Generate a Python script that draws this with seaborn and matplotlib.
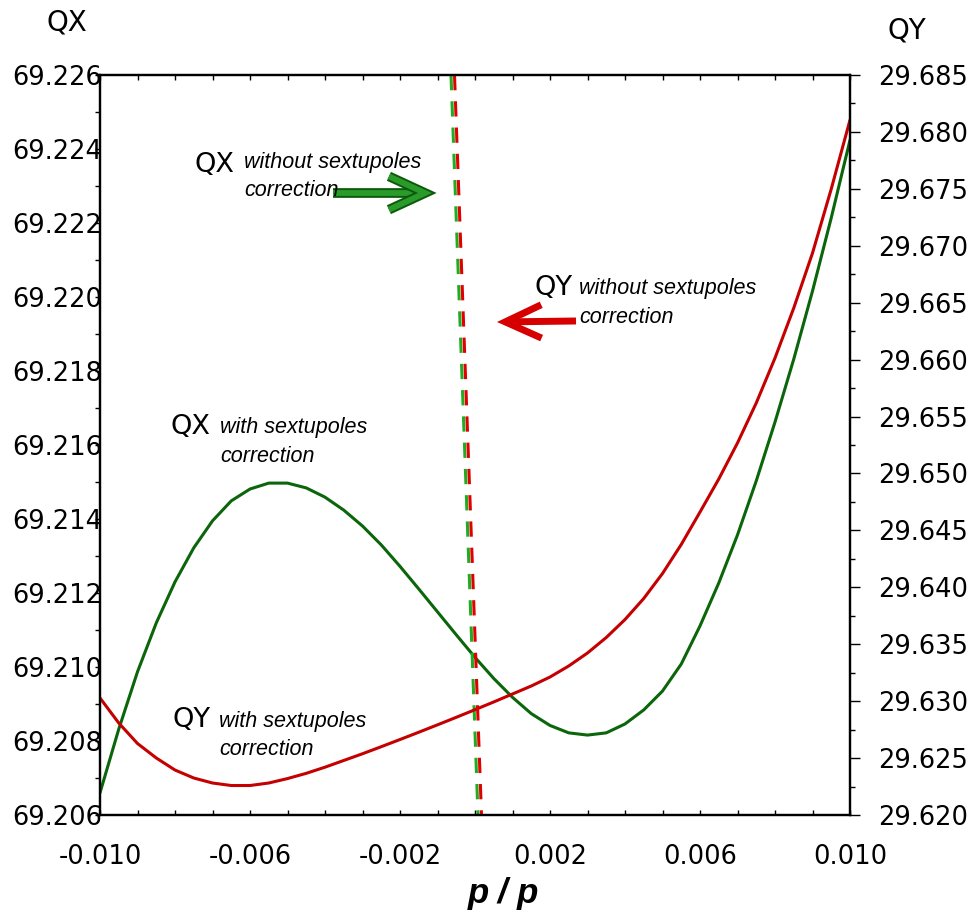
import matplotlib
matplotlib.use("Agg")
import matplotlib.pyplot as plt
import matplotlib.patheffects as pe
from matplotlib.patches import FancyArrowPatch
from matplotlib.ticker import FixedLocator, MultipleLocator
import seaborn as sns

# momentum deviation dp/p
dp = [-0.0100, -0.0095, -0.0090, -0.0085, -0.0080, -0.0075, -0.0070, -0.0065,
      -0.0060, -0.0055, -0.0050, -0.0045, -0.0040, -0.0035, -0.0030, -0.0025,
      -0.0020, -0.0015, -0.0010, -0.0005, 0.0000, 0.0005, 0.0010, 0.0015,
      0.0020, 0.0025, 0.0030, 0.0035, 0.0040, 0.0045, 0.0050, 0.0055,
      0.0060, 0.0065, 0.0070, 0.0075, 0.0080, 0.0085, 0.0090, 0.0095, 0.0100]

# horizontal tune with sextupole correction
qx_with = [69.20660, 69.20832, 69.20987, 69.21119, 69.21230, 69.21322, 69.21395,
           69.21449, 69.21481, 69.21497, 69.21497, 69.21484, 69.21459, 69.21424,
           69.21381, 69.21330, 69.21272, 69.21211, 69.21149, 69.21087, 69.21026,
           69.20969, 69.20918, 69.20874, 69.20842, 69.20822, 69.20816, 69.20822,
           69.20846, 69.20884, 69.20935, 69.21008, 69.21111, 69.21227, 69.21357,
           69.21503, 69.21662, 69.21832, 69.22016, 69.22214, 69.22424]

# vertical tune with sextupole correction
qy_with = [29.63028, 29.62808, 29.62628, 29.62501, 29.62395, 29.62325, 29.62281,
           29.62259, 29.62259, 29.62281, 29.62320, 29.62366, 29.62420, 29.62479,
           29.62538, 29.62600, 29.62663, 29.62727, 29.62792, 29.62858, 29.62925,
           29.62993, 29.63063, 29.63133, 29.63212, 29.63309, 29.63423, 29.63559,
           29.63717, 29.63902, 29.64121, 29.64376, 29.64661, 29.64951, 29.65268,
           29.65619, 29.66014, 29.66453, 29.66936, 29.67499, 29.68105]

# tunes without sextupole correction (steep, nearly vertical lines)
dp_qx_without = [-0.00064, 0.00008]
qx_without = [69.226, 69.206]
dp_qy_without = [-0.000547, 0.000173]
qy_without = [29.685, 29.620]

x_ticks = [-0.010, -0.006, -0.002, 0.002, 0.006, 0.010]
x_ticklabels = ["-0.010", "-0.006", "-0.002", "0.002", "0.006", "0.010"]
qx_ticks = [69.206, 69.208, 69.210, 69.212, 69.214, 69.216, 69.218, 69.220,
            69.222, 69.224, 69.226]
qx_ticklabels = ["69.206", "69.208", "69.210", "69.212", "69.214", "69.216",
                 "69.218", "69.220", "69.222", "69.224", "69.226"]
qy_ticks = [29.620, 29.625, 29.630, 29.635, 29.640, 29.645, 29.650, 29.655,
            29.660, 29.665, 29.670, 29.675, 29.680, 29.685]
qy_ticklabels = ["29.620", "29.625", "29.630", "29.635", "29.640", "29.645",
                 "29.650", "29.655", "29.660", "29.665", "29.670", "29.675",
                 "29.680", "29.685"]

GREEN = "#0b650b"
RED = "#c40000"
GREEN_DASH = "#22aa22"
RED_DASH = "#e00000"

sns.set_style("white")
plt.rcParams["font.family"] = ["DejaVu Sans"]
plt.rcParams["axes.unicode_minus"] = False
plt.rcParams["text.color"] = "black"
plt.rcParams["xtick.color"] = "black"
plt.rcParams["ytick.color"] = "black"
plt.rcParams["xtick.labelcolor"] = "black"
plt.rcParams["ytick.labelcolor"] = "black"

W, H = 976, 922
fig = plt.figure(figsize=(W / 100, H / 100), dpi=100)


def fx(px):
    return px / W


def fy(py):
    return 1 - py / H


ax = fig.add_axes([fx(100), fy(815), 750 / W, 740 / H])
ax2 = ax.twinx()

sns.lineplot(x=dp, y=qx_with, ax=ax, color=GREEN, linewidth=2.2,
             sort=False, estimator=None)
sns.lineplot(x=dp_qx_without, y=qx_without, ax=ax, color=GREEN_DASH,
             linewidth=2.2, sort=False, estimator=None,
             linestyle=(0, (5, 3.6)))
sns.lineplot(x=dp, y=qy_with, ax=ax2, color=RED, linewidth=2.2,
             sort=False, estimator=None)
sns.lineplot(x=dp_qy_without, y=qy_without, ax=ax2, color=RED_DASH,
             linewidth=2.2, sort=False, estimator=None,
             linestyle=(0, (5, 3.6)))

ax.set_xlim(-0.010, 0.010)
ax.set_ylim(69.206, 69.226)
ax2.set_ylim(29.620, 29.685)

tick_font = 18.5
ax.xaxis.set_major_locator(FixedLocator(x_ticks))
ax.set_xticklabels(x_ticklabels, fontsize=tick_font, color="black")
ax.xaxis.set_minor_locator(MultipleLocator(0.001))
ax.yaxis.set_major_locator(FixedLocator(qx_ticks))
ax.set_yticklabels(qx_ticklabels, fontsize=tick_font, color="black")
ax.yaxis.set_minor_locator(MultipleLocator(0.001))
ax2.yaxis.set_major_locator(FixedLocator(qy_ticks))
ax2.set_yticklabels(qy_ticklabels, fontsize=tick_font, color="black")
ax2.yaxis.set_minor_locator(MultipleLocator(0.0025))

ax.tick_params(axis="x", which="both", direction="in", length=3.6, width=1,
               top=True, bottom=True, pad=21, colors="black")
ax.tick_params(axis="y", which="both", direction="out", length=3.6, width=1,
               left=True, right=False, pad=-5, colors="black")
ax2.tick_params(axis="y", which="major", direction="out", length=7.2,
                width=1, pad=13, colors="black")
ax2.tick_params(axis="y", which="minor", direction="out", length=3.6,
                width=1, colors="black")
for a in (ax, ax2):
    a.set_xlabel("")
    a.set_ylabel("")
    for s in a.spines.values():
        s.set_linewidth(1.6)
        s.set_color("black")
        s.set_visible(True)
ax2.set_zorder(ax.get_zorder() + 1)
ax.patch.set_visible(True)
ax2.patch.set_visible(False)

# axis titles
fig.text(fx(67), fy(23), "QX", fontsize=20, ha="center", va="center",
         color="black")
fig.text(fx(907), fy(30), "QY", fontsize=20, ha="center", va="center",
         color="black")
fig.text(fx(503), fy(903), "p / p", fontsize=25, style="italic",
         weight="bold", family="Liberation Sans", ha="center",
         va="baseline", color="black")

# curve annotations
note_font = 15.5


def note(px, py_base, tune, line1, px2, py1, py2):
    fig.text(fx(px), fy(py_base), tune, fontsize=19.5, ha="left",
             va="baseline", color="black")
    fig.text(fx(px2), fy(py1), line1, fontsize=note_font, style="italic",
             family="Liberation Sans", ha="left", va="baseline",
             color="black")
    fig.text(fx(px2), fy(py2), "correction", fontsize=note_font,
             style="italic", family="Liberation Sans", ha="left",
             va="baseline", color="black")


note(194, 172, "QX", "without sextupoles", 244, 168, 196)
note(534, 295, "QY", "without sextupoles", 579, 294, 323)
note(171, 434, "QX", "with sextupoles", 220, 433, 462)
note(172, 727, "QY", "with sextupoles", 219, 727, 755)

# pointer arrows
green_arrow = FancyArrowPatch(
    (fx(333), fy(193)), (fx(432), fy(193)), transform=fig.transFigure,
    arrowstyle="->,head_length=26,head_width=12", mutation_scale=1,
    color="#2a9a2a", linewidth=4.2, shrinkA=0, shrinkB=0,
    capstyle="butt", joinstyle="miter",
    path_effects=[pe.Stroke(linewidth=7, foreground="#0a5a0a"), pe.Normal()])
fig.add_artist(green_arrow)

red_arrow = FancyArrowPatch(
    (fx(576), fy(321)), (fx(497), fy(322)), transform=fig.transFigure,
    arrowstyle="->,head_length=26,head_width=12", mutation_scale=1,
    color="#d60000", linewidth=5, shrinkA=0, shrinkB=0,
    capstyle="butt", joinstyle="miter")
fig.add_artist(red_arrow)

fig.savefig("out.png", dpi=100)
